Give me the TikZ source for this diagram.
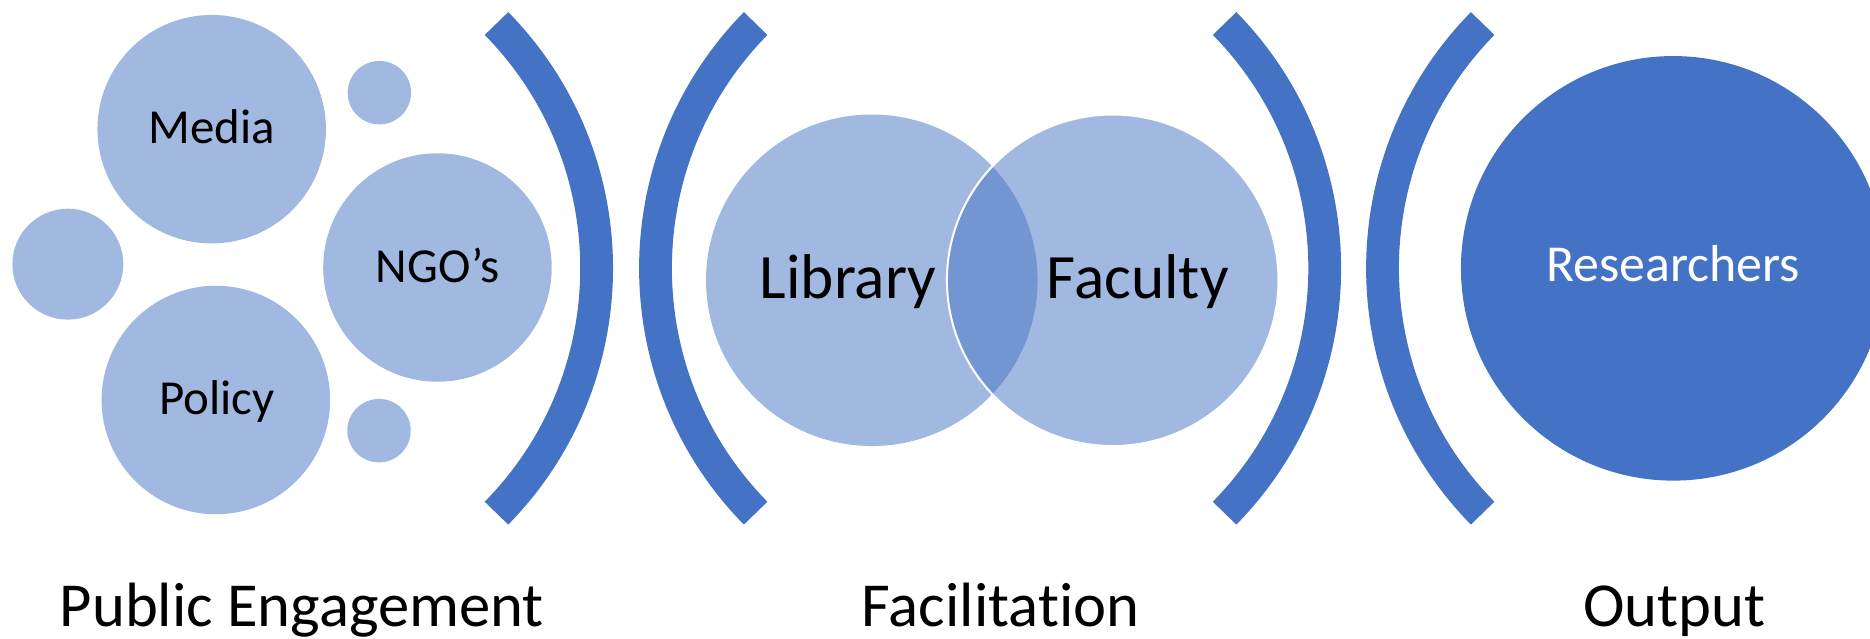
\documentclass[tikz,border=0pt]{standalone}
\usepackage{fontspec}
\setmainfont{Carlito}[Ligatures=NoCommon]
\definecolor{accent}{HTML}{4472C4}
\definecolor{lightacc}{HTML}{A1B8E1}
\definecolor{lensacc}{HTML}{7395D2}
\begin{document}
\begin{tikzpicture}[x=1pt,y=-1pt,
  bubble/.style={circle,fill=lightacc,inner sep=0pt,outer sep=0pt},
  bigbubble/.style={circle,fill=accent,inner sep=0pt,outer sep=0pt},
  bracketarc/.style={draw=accent,line width=27.5pt,line cap=butt},
  smalllabel/.style={anchor=base,inner sep=0pt,font=\fontsize{41}{49}\selectfont},
  biglabel/.style={anchor=base,inner sep=0pt,font=\fontsize{53}{63}\selectfont},
  caption/.style={anchor=base,inner sep=0pt,font=\fontsize{52.5}{62}\selectfont}]
\useasboundingbox (0,0) rectangle (1568,535.8);

% Public engagement bubbles
\node[bubble,minimum size=191.6pt] (media) at (177.5,108.3) {};
\node[bubble,minimum size=53.2pt] (dot1) at (318.1,77.7) {};
\node[bubble,minimum size=191.6pt] (ngo) at (366.8,224.3) {};
\node[bubble,minimum size=93pt] (dot2) at (56.9,221.5) {};
\node[bubble,minimum size=191.6pt] (policy) at (181,335.4) {};
\node[bubble,minimum size=53.2pt] (dot3) at (317.8,361.1) {};
\node[smalllabel] (medialabel) at (177.8,120.7) {Media};
\node[smalllabel] (ngolabel) at (367,237) {NGO’s};
\node[smalllabel] (policylabel) at (181.8,347.4) {Policy};

% Brackets
\coordinate (b1c) at (207.4,225);
\coordinate (b2c) at (842.5,225);
\coordinate (b3c) at (817.9,225);
\coordinate (b4c) at (1452.1,225);
\draw[bracketarc] (b1c) ++(-44.5:292.9) arc[start angle=-44.5,end angle=44.5,radius=292.9];
\draw[bracketarc] (b2c) ++(224.5:292.9) arc[start angle=224.5,end angle=135.5,radius=292.9];
\draw[bracketarc] (b3c) ++(-44.5:292.9) arc[start angle=-44.5,end angle=44.5,radius=292.9];
\draw[bracketarc] (b4c) ++(224.5:292.9) arc[start angle=224.5,end angle=135.5,radius=292.9];

% Facilitation: overlapping circles
\node[bubble,minimum size=278pt] (library) at (731,235) {};
\node[bubble,minimum size=278pt] (faculty) at (933,235) {};
\begin{scope}
  \clip (731,235) circle (139);
  \fill[lensacc] (933,235) circle (139);
\end{scope}
\draw[white,line width=1.7pt] (933,235) circle (139);
\node[biglabel] (librarylabel) at (711,250) {Library};
\node[biglabel] (facultylabel) at (954,250) {Faculty};

% Output circle
\node[bigbubble,minimum size=356pt] (researchers) at (1403,225) {};
\node[anchor=base,inner sep=0pt,text=white,font=\fontsize{43.5}{52}\selectfont] (researcherslabel) at (1403,236.2) {Researchers};

% Captions
\node[caption] (cap1) at (253,525.5) {Public Engagement};
\node[caption] (cap2) at (839,525.5) {Facilitation};
\node[caption] (cap3) at (1404,525.5) {Output};
\end{tikzpicture}
\end{document}
